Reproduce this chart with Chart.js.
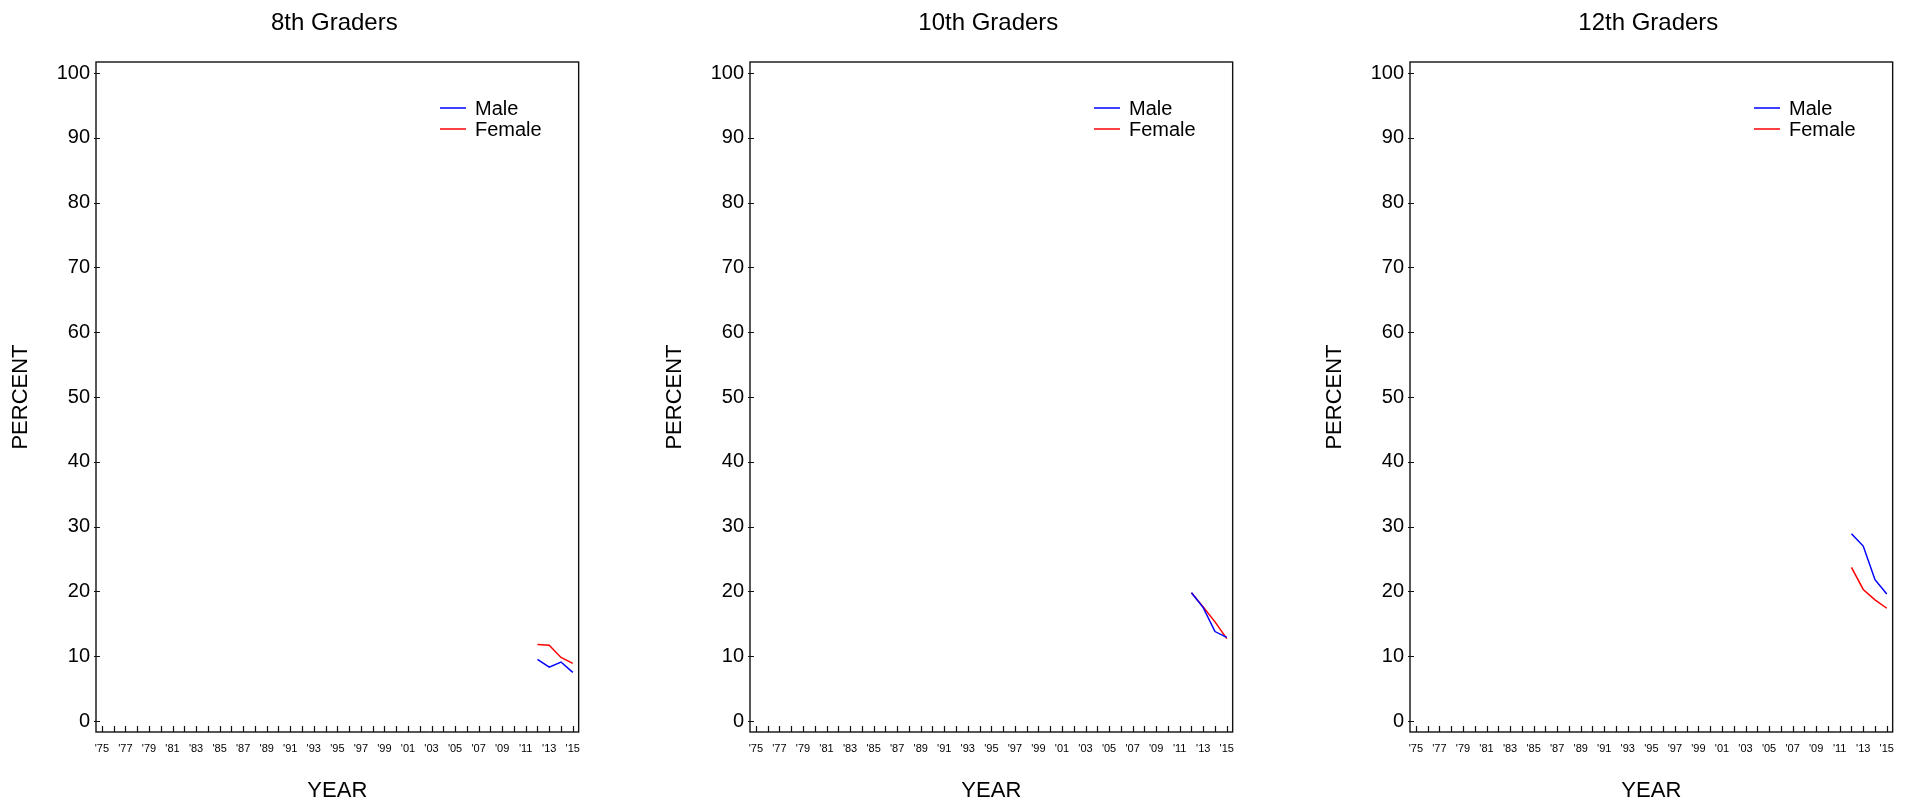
<!DOCTYPE html>
<html>
<head>
<meta charset="utf-8">
<script src="https://cdn.jsdelivr.net/npm/chart.js@4.4.0/dist/chart.umd.min.js"></script>
<style>
html, body { margin: 0; padding: 0; background: #fff; width: 1919px; height: 806px; overflow: hidden; }
.panel { position: absolute; top: 0; width: 590px; height: 806px; }
</style>
</head>
<body>
<div class="panel" style="left:0px"><canvas id="g8"></canvas></div>
<div class="panel" style="left:654px"><canvas id="g10"></canvas></div>
<div class="panel" style="left:1314px"><canvas id="g12"></canvas></div>
<script>
// data
const dataYears = [2012, 2013, 2014, 2015];

const male8 = [9.5, 8.3, 9.1, 7.5];
const female8 = [11.8, 11.7, 9.8, 8.9];

const male10 = [19.8, 17.5, 13.8, 12.9];
const female10 = [19.8, 17.6, 15.3, 12.7];

const male12 = [28.9, 27.0, 21.8, 19.6];
const female12 = [23.7, 20.3, 18.7, 17.4];

const yTicks = [0, 10, 20, 30, 40, 50, 60, 70, 80, 90, 100];
const tickYears = [1975, 1977, 1979, 1981, 1983, 1985, 1987, 1989, 1991, 1993, 1995,
                   1997, 1999, 2001, 2003, 2005, 2007, 2009, 2011, 2013, 2015];
const tickLabels = ["'75", "'77", "'79", "'81", "'83", "'85", "'87", "'89", "'91", "'93", "'95",
                    "'97", "'99", "'01", "'03", "'05", "'07", "'09", "'11", "'13", "'15"];

const FONT = 'Liberation Sans, Arial, sans-serif';

const frame = {
    id: 'frame',
    afterDraw(chart) {
        const ctx = chart.ctx;
        const a = chart.chartArea;
        const xs = chart.scales.x, ys = chart.scales.y;
        ctx.save();
        ctx.strokeStyle = '#111';
        ctx.lineWidth = 1.4;
        ctx.strokeRect(a.left, a.top, a.right - a.left, a.bottom - a.top);
        ctx.lineWidth = 1.2;
        ctx.beginPath();
        for (let yr = tickYears[0]; yr <= tickYears[tickYears.length - 1]; yr++) {
            const x = Math.round(xs.getPixelForValue(yr)) + 0.5;
            ctx.moveTo(x, a.bottom);
            ctx.lineTo(x, a.bottom - 6);
        }
        yTicks.forEach(v => {
            const y = Math.round(ys.getPixelForValue(v)) + 0.5;
            ctx.moveTo(a.left - 2, y);
            ctx.lineTo(a.left + 4, y);
        });
        ctx.stroke();

        const cx = (a.left + a.right) / 2;
        ctx.fillStyle = '#000';
        ctx.textAlign = 'center';
        ctx.textBaseline = 'middle';
        ctx.font = '24px ' + FONT;
        ctx.fillText(chart.options.plugins.panelTitle, cx - 3, 23);
        ctx.font = '22px ' + FONT;
        ctx.fillText('YEAR', cx, 791);
        ctx.save();
        ctx.translate(a.left - 75, (a.top + a.bottom) / 2);
        ctx.rotate(-Math.PI / 2);
        ctx.fillText('PERCENT', 0, 0);
        ctx.restore();

        // legend
        const lx = a.left + 344;
        ctx.font = '20px ' + FONT;
        ctx.textAlign = 'left';
        chart.data.datasets.forEach((ds, i) => {
            const y = a.top + 46 + i * 21;
            ctx.strokeStyle = ds.borderColor;
            ctx.lineWidth = 1.5;
            ctx.beginPath();
            ctx.moveTo(lx, y);
            ctx.lineTo(lx + 26, y);
            ctx.stroke();
            ctx.fillStyle = '#000';
            ctx.fillText(ds.label, lx + 35, y + 1);
        });
        ctx.restore();
    }
};

function makePanel(id, title, male, female) {
    const toPoints = vals => dataYears.map((yr, i) => ({ x: yr, y: vals[i] }));
    new Chart(document.getElementById(id), {
        type: 'line',
        data: {
            datasets: [
                { label: 'Male', data: toPoints(male), borderColor: '#0000ff', borderWidth: 1.5, pointRadius: 0, tension: 0 },
                { label: 'Female', data: toPoints(female), borderColor: '#ff0000', borderWidth: 1.5, pointRadius: 0, tension: 0 }
            ]
        },
        options: {
            responsive: true,
            maintainAspectRatio: false,
            animation: false,
            layout: { padding: { top: 62, right: 5, left: 0, bottom: 0 } },
            plugins: {
                legend: { display: false },
                tooltip: { enabled: false },
                panelTitle: title
            },
            scales: {
                x: {
                    type: 'linear',
                    min: 1974.5,
                    max: 2015.5,
                    afterFit(s) { s.height = 74; },
                    afterBuildTicks(s) { s.ticks = tickYears.map(v => ({ value: v })); },
                    grid: { display: false, drawTicks: false },
                    border: { display: false },
                    ticks: {
                        autoSkip: false,
                        maxRotation: 0,
                        padding: 10,
                        color: '#000',
                        font: { family: FONT, size: 11 },
                        callback: (v, i) => tickLabels[i]
                    }
                },
                y: {
                    min: -1.7,
                    max: 101.7,
                    afterFit(s) { s.width = 96; },
                    afterBuildTicks(s) { s.ticks = yTicks.map(v => ({ value: v })); },
                    grid: { display: false, drawTicks: false },
                    border: { display: false },
                    ticks: {
                        padding: 6,
                        color: '#000',
                        font: { family: FONT, size: 20 }
                    }
                }
            }
        },
        plugins: [frame]
    });
}

makePanel('g8', '8th Graders', male8, female8);
makePanel('g10', '10th Graders', male10, female10);
makePanel('g12', '12th Graders', male12, female12);
</script>
</body>
</html>
